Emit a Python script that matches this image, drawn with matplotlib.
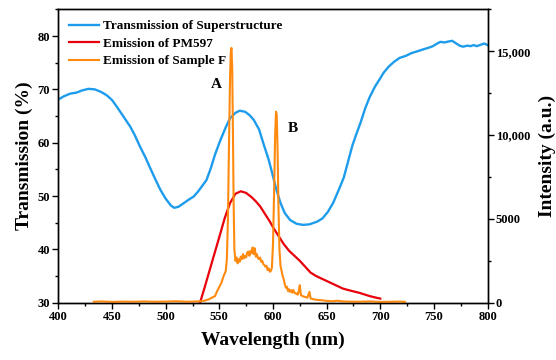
import matplotlib
matplotlib.use('Agg')
import matplotlib.pyplot as plt
from matplotlib.ticker import MultipleLocator, FixedLocator, FixedFormatter

# transmission of the superstructure (left axis, %)
trans_wl = [400, 405, 411, 417, 422, 428, 434, 440, 445, 450, 455, 461, 467, 471, 476,
            481, 485, 490, 495, 500, 505, 508, 512, 517, 522, 526, 530, 534, 538, 542,
            546, 551, 556, 560, 565, 569, 574, 578, 582, 587, 591, 596, 600, 603, 607,
            611, 616, 622, 628, 634, 641, 646, 651, 656, 662, 666, 670, 674, 678, 682,
            686, 690, 695, 700, 703, 708, 713, 718, 724, 729, 734, 740, 745, 749, 753,
            756, 760, 764, 767, 770, 774, 777, 781, 784, 787, 790, 794, 797, 800]
trans_val = [68.1, 68.7, 69.2, 69.4, 69.8, 70.1, 70.0, 69.5, 68.9, 68.0, 66.6, 64.8, 63.0, 61.5, 59.3,
             57.3, 55.5, 53.3, 51.2, 49.5, 48.2, 47.8, 48.0, 48.7, 49.4, 49.9, 50.8, 51.9, 53.0, 55.2,
             57.8, 60.5, 62.9, 64.6, 65.6, 66.0, 65.8, 65.2, 64.3, 62.5, 59.9, 56.8, 53.7, 51.3, 48.7,
             46.8, 45.5, 44.8, 44.6, 44.7, 45.2, 45.8, 47.0, 48.7, 51.5, 53.5, 56.5, 59.5, 61.8, 64.0,
             66.5, 68.5, 70.5, 72.1, 73.1, 74.3, 75.2, 75.9, 76.3, 76.8, 77.1, 77.5, 77.8, 78.1, 78.6,
             78.9, 78.8, 79.0, 79.1, 78.7, 78.2, 78.0, 78.2, 78.1, 78.3, 78.1, 78.4, 78.6, 78.3]

# emission of PM597 (right axis, a.u.)
pm_wl = [532, 536, 541, 546, 551, 555, 560, 565, 570, 575, 580, 584, 588, 592, 597,
         601, 606, 610, 615, 620, 625, 630, 635, 640, 645, 650, 655, 660, 665, 670,
         675, 680, 685, 690, 695, 700]
pm_val = [0, 850, 1950, 3050, 4150, 5050, 5950, 6500, 6650, 6550, 6300, 6050, 5750, 5350, 4850,
          4400, 3900, 3500, 3100, 2800, 2500, 2150, 1800, 1600, 1450, 1300, 1150, 1000, 850, 760,
          680, 600, 500, 400, 320, 250]

# emission of sample F (right axis, a.u.)
sf_wl = [433, 440, 450, 460, 470, 480, 490, 500, 510, 520, 530, 536, 540, 543, 546,
         548, 550, 552, 554, 556, 557, 558, 559, 560, 560.7, 561.3, 562, 562.7, 563.3, 564,
         565, 566, 567, 568, 569, 570, 571, 572, 573, 574, 575, 576, 577, 578, 579,
         580, 581, 582, 583, 584, 585, 586, 587, 588, 589, 590, 591, 592, 593, 594,
         595, 596, 597, 598, 599, 600, 601, 602, 602.8, 603.5, 604.3, 605, 606, 607, 608,
         609, 610, 611, 612, 613, 614, 615, 616, 617, 618, 619, 620, 621, 622, 623,
         624, 625, 626, 627, 628, 630, 632, 634, 635, 637, 640, 643, 647, 650, 655,
         660, 665, 670, 680, 690, 700, 710, 718, 723]
sf_val = [60, 80, 50, 70, 60, 80, 60, 70, 90, 60, 80, 120, 200, 300, 400,
          700, 950, 1200, 1600, 1900, 2600, 5000, 9500, 13500, 15000, 15200, 14000, 10000, 6000, 3200,
          2500, 2700, 2350, 2600, 2450, 2750, 2600, 2900, 2650, 2800, 2700, 3000, 3050, 2800, 3100,
          2950, 3300, 2900, 3250, 2750, 2900, 2650, 2600, 2700, 2450, 2500, 2300, 2250, 2150, 2200,
          1950, 2050, 1850, 1900, 2100, 3500, 6500, 10000, 11400, 11200, 9000, 6000, 3200, 2200, 1900,
          1600, 1400, 1100, 900, 950, 700, 800, 650, 750, 600, 760, 600, 550, 560, 480,
          700, 1050, 450, 420, 380, 350, 300, 650, 260, 220, 180, 160, 140, 110, 90,
          120, 80, 70, 60, 80, 50, 60, 70, 50]

x_ticks = [400, 450, 500, 550, 600, 650, 700, 750, 800]
left_ticks = [30, 40, 50, 60, 70, 80]
right_ticks = [0, 5000, 10000, 15000]
right_labels = ['0', '5000', '10,000', '15,000']

plt.rcParams['font.family'] = ['Liberation Serif', 'DejaVu Serif']
plt.rcParams['font.weight'] = 'bold'

fig = plt.figure(figsize=(5.56, 3.6), dpi=100)
ax1 = fig.add_axes([0.105, 0.159, 0.772, 0.815])
ax2 = ax1.twinx()

l1, = ax1.plot(trans_wl, trans_val, color='#1e9cec', lw=1.7, label='Transmission of Superstructure')
l2, = ax2.plot(pm_wl, pm_val, color='#e8000b', lw=1.6, label='Emission of PM597')
l3, = ax2.plot(sf_wl, sf_val, color='#ff8a10', lw=1.5, label='Emission of Sample F')

ax1.set_xlim(400, 800)
ax1.set_ylim(30, 85)
ax2.set_ylim(0, 17500)

ax1.xaxis.set_major_locator(FixedLocator(x_ticks))
ax1.xaxis.set_minor_locator(MultipleLocator(25))
ax1.yaxis.set_major_locator(FixedLocator(left_ticks))
ax1.yaxis.set_minor_locator(MultipleLocator(5))
ax2.yaxis.set_major_locator(FixedLocator(right_ticks))
ax2.yaxis.set_major_formatter(FixedFormatter(right_labels))
ax2.yaxis.set_minor_locator(MultipleLocator(2500))

for ax in (ax1, ax2):
    ax.tick_params(which='major', direction='out', length=4, width=1, labelsize=9, pad=2)
    ax.tick_params(which='minor', direction='out', length=2.5, width=1)
    for sp in ax.spines.values():
        sp.set_linewidth(1)
ax1.tick_params(top=False, right=False, which='both')
ax2.tick_params(top=False, which='both')

ax1.set_xlabel('Wavelength (nm)', fontsize=14, fontweight='bold', labelpad=6)
ax1.set_ylabel('Transmission (%)', fontsize=14, fontweight='bold', labelpad=3)
ax2.set_ylabel('Intensity (a.u.)', fontsize=14, fontweight='bold', labelpad=6)

ax2.text(547.5, 13000, 'A', fontsize=11, fontweight='bold', ha='center', va='center')
ax2.text(618.5, 10400, 'B', fontsize=11, fontweight='bold', ha='center', va='center')

ax2.legend(handles=[l1, l2, l3], loc='upper left', frameon=False,
           handlelength=2.3, handletextpad=0.3, labelspacing=0.4,
           borderaxespad=0.4, prop={'weight': 'bold', 'size': 9.5})

fig.savefig('out.png', dpi=100)
